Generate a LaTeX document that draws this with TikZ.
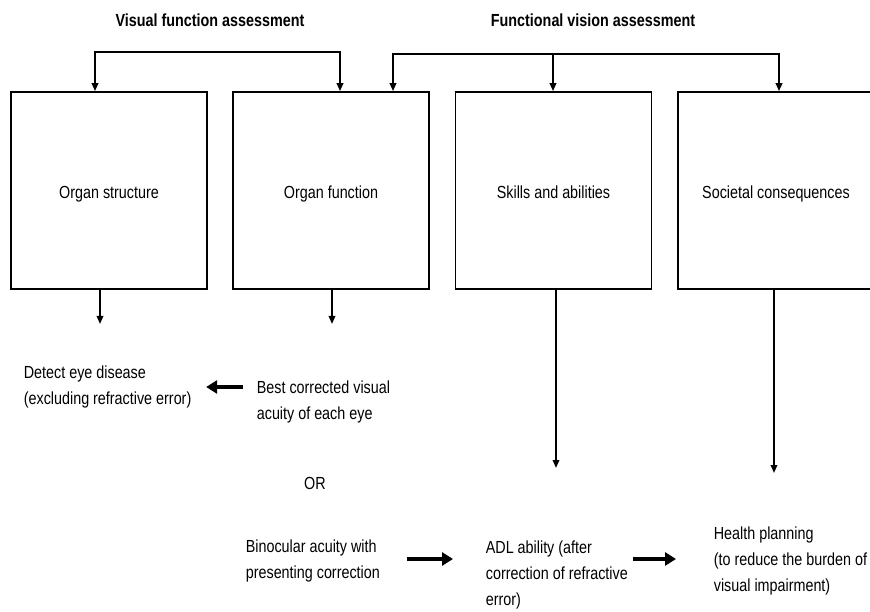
\documentclass[tikz,border=0pt]{standalone}
\usepackage{fontspec}
\setmainfont[FakeStretch=0.82]{Liberation Sans}
\usetikzlibrary{arrows.meta}
\begin{document}
\begin{tikzpicture}[x=1pt, y=-1pt, line width=1.7pt,
  >={Triangle[length=8pt,width=6.5pt]},
  font=\fontsize{17.5}{26}\selectfont,
  box/.style={draw, minimum width=196pt, minimum height=197pt, inner sep=0pt,
    text height=19pt, text depth=2pt},
  txt/.style={anchor=west, align=left, inner sep=0pt},
  brk/.style={line width=2.6pt, line join=miter},
  fat/.style={-{Triangle[length=11pt,width=13pt]}, line width=4pt}]

\useasboundingbox (0,0) rectangle (870,612);

% titles
\node[font=\fontsize{17.5}{26}\selectfont\bfseries] (vfa) at (210,20) {Visual function assessment};
\node[font=\fontsize{17.5}{26}\selectfont\bfseries] (fva) at (593,20) {Functional vision assessment};

% the four boxes
\node[box] (o1) at (109,190.5) {Organ structure};
\node[box] (o2) at (331,190.5) {Organ function};
\node[box] (o3) at (553.5,190.5) {Skills and abilities};
\node[box] (o4) at (776,190.5) {Societal consequences};

% brackets from the titles
\coordinate (vl) at (95,52);
\coordinate (vr) at (340,52);
\draw[brk,<->] (o1.north -| vl) -- (vl) -- (vr) -- (o2.north -| vr);

\coordinate (f1) at (393,54);
\coordinate (f2) at (553,54);
\coordinate (f3) at (779,54);
\draw[brk,<->] (o2.north -| f1) -- (f1) -- (f3) -- (o4.north -| f3);
\draw[brk,->] (f2) -- (o3.north -| f2);

% outcomes
\node[txt] (detect) at (23,387) {Detect eye disease\\(excluding refractive error)};
\node[txt] (best) at (256,402) {Best corrected visual\\acuity of each eye};
\node (or) at (315,483) {OR};
\node[txt] (bino) at (245,561) {Binocular acuity with\\presenting correction};
\node[txt] (adl) at (485,575) {ADL ability (after\\correction of refractive\\error)};
\node[txt] (health) at (713,561) {Health planning\\(to reduce the burden of\\visual impairment)};

% arrows down from the boxes
\coordinate (e1) at (100,324);
\coordinate (e2) at (332,324);
\coordinate (e3) at (556,468);
\coordinate (e4) at (774,473);
\draw[->] (o1.south -| e1) -- (e1);
\draw[->] (o2.south -| e2) -- (e2);
\draw[->] (o3.south -| e3) -- (e3);
\draw[->] (o4.south -| e4) -- (e4);

% thick arrows
\draw[fat, shorten <=13pt, shorten >=14pt] (best.west |- detect.east) -- (detect.east);
\draw[fat, shorten <=26pt, shorten >=32pt] ([yshift=2pt]bino.east) -- ([yshift=2pt]bino.east -| adl.west);
\draw[fat, shorten <=4pt, shorten >=37pt] ([yshift=2pt]adl.east |- health.west) -- ([yshift=2pt]health.west);

\end{tikzpicture}
\end{document}
